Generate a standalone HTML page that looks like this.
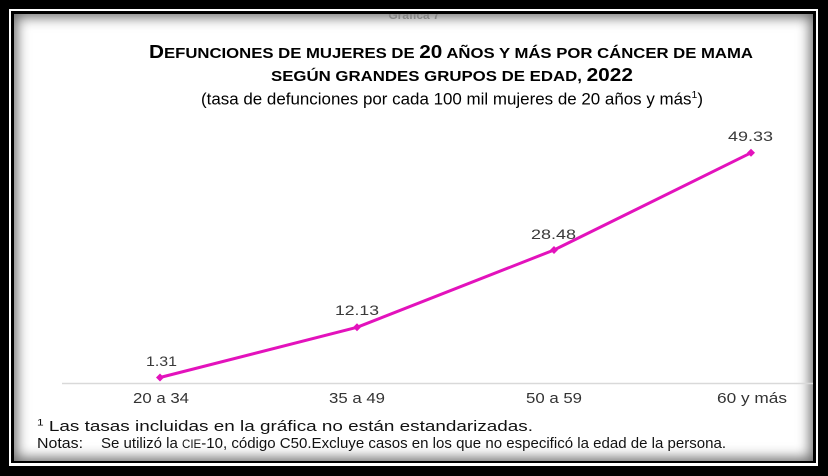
<!DOCTYPE html>
<html>
<head>
<meta charset="utf-8">
<style>
  html,body{margin:0;padding:0;}
  body{width:828px;height:476px;background:#000;position:relative;overflow:hidden;}
  .w1{position:absolute;left:9px;top:9px;width:809px;height:457px;background:#fff;}
  .b2{position:absolute;left:11px;top:11px;width:805px;height:452px;background:#000;}
  .c{position:absolute;left:14px;top:14px;width:799px;height:447px;background:#fff;
     box-shadow: inset 0 0 13px 3px rgba(0,0,0,0.6);}
  svg{position:absolute;left:0;top:0;}
  text{font-family:"Liberation Sans", Arial, sans-serif;}
</style>
</head>
<body>
<div class="w1"></div>
<div class="b2"></div>
<div class="c"></div>
<svg width="828" height="476" viewBox="0 0 828 476" xmlns="http://www.w3.org/2000/svg">
  <defs>
    <clipPath id="cp"><rect x="14" y="14" width="799" height="447"/></clipPath>
  </defs>
  <g clip-path="url(#cp)">
    <text x="414" y="19" font-size="12" fill="#888" text-anchor="middle" font-weight="bold">Gráfica 7</text>
  </g>

  <!-- Title -->
  <text x="149" y="58" font-weight="bold" fill="#000" textLength="604" lengthAdjust="spacingAndGlyphs"><tspan font-size="18">D</tspan><tspan font-size="14.5">EFUNCIONES DE MUJERES DE </tspan><tspan font-size="18">20</tspan><tspan font-size="14.5"> AÑOS Y MÁS POR CÁNCER DE MAMA</tspan></text>
  <text x="271" y="81" font-weight="bold" fill="#000" textLength="362" lengthAdjust="spacingAndGlyphs"><tspan font-size="14.5">SEGÚN GRANDES GRUPOS DE EDAD, </tspan><tspan font-size="18">2022</tspan></text>
  <text x="201" y="104.5" font-size="17" fill="#000" textLength="502" lengthAdjust="spacingAndGlyphs">(tasa de defunciones por cada 100 mil mujeres de 20 años y más<tspan font-size="10.5" dy="-6.5">1</tspan><tspan dy="6.5">)</tspan></text>

  <!-- axis -->
  <line x1="62" y1="383.5" x2="813" y2="383.5" stroke="#d9d9d9" stroke-width="1.5"/>

  <!-- series -->
  <polyline points="160,377.5 357,327.3 554,250 751,152.8" fill="none" stroke="#E312BC" stroke-width="3" stroke-linejoin="round"/>
  <g fill="#E312BC">
    <polygon points="160,373.5 164,377.5 160,381.5 156,377.5"/>
    <polygon points="357,323.3 361,327.3 357,331.3 353,327.3"/>
    <polygon points="554,246 558,250 554,254 550,250"/>
    <polygon points="751,148.8 755,152.8 751,156.8 747,152.8"/>
  </g>

  <!-- data labels -->
  <g fill="#3a3a3a" font-size="14">
    <text x="146" y="366" textLength="31" lengthAdjust="spacingAndGlyphs">1.31</text>
    <text x="335" y="315" textLength="44" lengthAdjust="spacingAndGlyphs">12.13</text>
    <text x="531" y="239" textLength="45" lengthAdjust="spacingAndGlyphs">28.48</text>
    <text x="728" y="141" textLength="45" lengthAdjust="spacingAndGlyphs">49.33</text>
  </g>

  <!-- category labels -->
  <g fill="#333" font-size="14.5">
    <text x="133" y="403" textLength="56" lengthAdjust="spacingAndGlyphs">20 a 34</text>
    <text x="329" y="403" textLength="56" lengthAdjust="spacingAndGlyphs">35 a 49</text>
    <text x="526" y="403" textLength="56" lengthAdjust="spacingAndGlyphs">50 a 59</text>
    <text x="717" y="403" textLength="70" lengthAdjust="spacingAndGlyphs">60 y más</text>
  </g>

  <!-- footnotes -->
  <g fill="#111" font-size="15">
    <text x="37" y="431" textLength="496" lengthAdjust="spacingAndGlyphs"><tspan font-size="9.5" dy="-5.5">1</tspan><tspan dy="5.5"> Las tasas  incluidas  en la gráfica no están  estandarizadas.</tspan></text>
    <text x="37" y="448" textLength="46" lengthAdjust="spacingAndGlyphs">Notas:</text>
    <text x="101" y="448" textLength="625" lengthAdjust="spacingAndGlyphs">Se utilizó la <tspan font-size="11.5">CIE</tspan>-10, código C50.Excluye  casos  en los que no especificó la edad de la persona.</text>
  </g>
</svg>
</body>
</html>
